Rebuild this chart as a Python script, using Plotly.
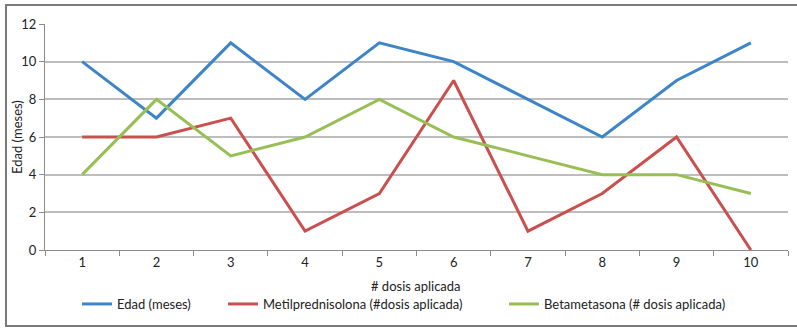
import plotly.graph_objects as go

dosis = ["1", "2", "3", "4", "5", "6", "7", "8", "9", "10"]
edad = [10, 7, 11, 8, 11, 10, 8, 6, 9, 11]
metil = [6, 6, 7, 1, 3, 9, 1, 3, 6, 0]
beta = [4, 8, 5, 6, 8, 6, 5, 4, 4, 3]
y_ticks = [0, 2, 4, 6, 8, 10, 12]

W, H = 797, 328
L, R, T, B = 45, 9, 24, 78
pw, ph = W - L - R, H - T - B

def px_x(p):
    return (p - L) / pw

def px_y(p):
    return (H - B - p) / ph

font = dict(family="Lato, Liberation Sans Narrow, sans-serif", size=13, color="#222222")

fig = go.Figure()
series = [
    ("Edad (meses)", edad, "#3d85c6", "legend", 77),
    ("Metilprednisolona (#dosis aplicada)", metil, "#c9504e", "legend2", 223),
    ("Betametasona (# dosis aplicada)", beta, "#98bf55", "legend3", 504),
]
legends = {}
for name, vals, col, leg, lx in series:
    fig.add_trace(go.Scatter(x=dosis, y=vals, name=name, mode="lines",
                             line=dict(color=col, width=3), legend=leg))
    legends[leg] = dict(orientation="h", x=px_x(lx), xanchor="left",
                        y=px_y(304), yanchor="middle", font=font,
                        itemwidth=30, bgcolor="rgba(0,0,0,0)")

fig.update_layout(
    width=W, height=H,
    margin=dict(l=L, r=R, t=T, b=B),
    paper_bgcolor="white", plot_bgcolor="white",
    font=font,
    showlegend=True,
    **legends,
    xaxis=dict(type="category", range=[-0.5, 9.5], showgrid=False,
               showline=True, linecolor="#8c8c8c", linewidth=1,
               ticks="outside", tickson="boundaries", ticklen=5,
               tickcolor="#8c8c8c", tickfont=font, zeroline=False),
    yaxis=dict(range=[0, 12], tickvals=y_ticks, showgrid=True,
               gridcolor="#bdbdbd", gridwidth=1.5,
               showline=True, linecolor="#8c8c8c", linewidth=1,
               ticks="outside", ticklen=5, tickcolor="#8c8c8c",
               tickfont=font, zeroline=False),
    annotations=[
        dict(text="# dosis aplicada", xref="paper", yref="paper",
             x=px_x(416), y=px_y(286), xanchor="center", yanchor="middle",
             showarrow=False, font=font),
        dict(text="Edad (meses)", xref="paper", yref="paper",
             x=px_x(17), y=px_y(137), xanchor="center", yanchor="middle",
             textangle=-90, showarrow=False, font=font),
    ],
    shapes=[
        dict(type="rect", xref="paper", yref="paper",
             x0=px_x(6), x1=px_x(805), y0=px_y(326), y1=px_y(5),
             line=dict(color="#7a7a7a", width=2), layer="above"),
    ],
)

fig.write_html("out.html")
